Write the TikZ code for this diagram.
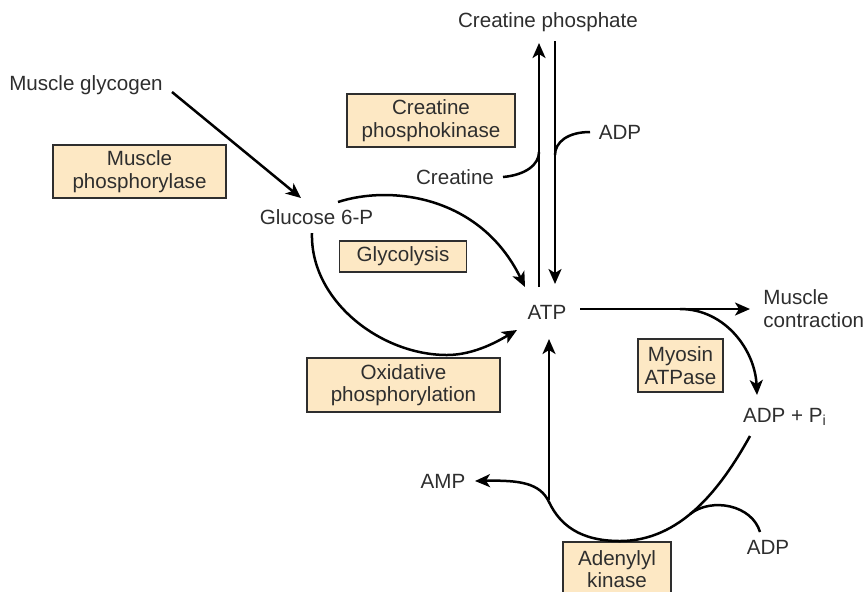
\documentclass[tikz,border=0pt]{standalone}
\usepackage{fontspec}
\setmainfont{Liberation Sans}
\usetikzlibrary{arrows.meta}
\definecolor{boxfill}{HTML}{FDE8C4}
\definecolor{txt}{HTML}{2E2E2E}
\begin{document}
\begin{tikzpicture}[x=0.5pt,y=-0.5pt,
  lbl/.style={inner sep=0pt, text=txt, font=\fontsize{10.3}{11.2}\selectfont, align=center},
  enz/.style={draw=txt, line width=0.6pt, fill=boxfill, text=txt, font=\fontsize{10.3}{11.2}\selectfont, align=center, inner sep=0pt},
  arr/.style={line width=1.25pt, -{Stealth[length=7.5pt,width=6.5pt,inset=2pt]}},
  ln/.style={line width=1.25pt}]
\useasboundingbox (0,0) rectangle (866,591);
\clip (0,0) rectangle (866,591);

% enzyme boxes
\node[enz, minimum width=86.5pt, minimum height=26.5pt] (bphos) at (139.5,171.5) {Muscle\\phosphorylase};
\node[enz, minimum width=84pt, minimum height=26.5pt] (bck) at (431,120.5) {Creatine\\phosphokinase};
\node[enz, minimum width=63.5pt, minimum height=15.5pt] (bgly) at (403,256.5) {Glycolysis};
\node[enz, minimum width=96.5pt, minimum height=27pt] (box) at (403.5,385) {Oxidative\\phosphorylation};
\node[enz, minimum width=42.5pt, minimum height=26.5pt] (bmyo) at (680.5,365.5) {Myosin\\ATPase};
\node[enz, minimum width=54pt, minimum height=27pt] (badk) at (617,569) {Adenylyl\\kinase};

% metabolites
\node[lbl] (glycogen) at (86,85) {Muscle glycogen};
\node[lbl] (g6p) at (316.5,217) {Glucose 6-P};
\node[lbl] (crp) at (548,22) {Creatine phosphate};
\node[lbl] (creatine) at (455,177) {Creatine};
\node[lbl] (adpT) at (620,132) {ADP};
\node[lbl] (atp) at (547,312) {ATP};
\node[lbl, anchor=west, align=left] (mc) at (763,308.5) {Muscle\\contraction};
\node[lbl] (adppi) at (785,417) {ADP + P\textsubscript{i}};
\node[lbl] (amp) at (443,481) {AMP};
\node[lbl] (adpB) at (768,547) {ADP};

% glycogen -> glucose 6-P
\draw[arr] ([shift={(86,7)}]glycogen.center) -- ([shift={(-15.5,-19)}]g6p.center);

% creatine phosphokinase pair
\draw[arr] ([shift={(-8,-25)}]atp.center) -- ([shift={(-9,21)}]crp.center);
\draw[arr] ([shift={(7,19)}]crp.center) -- ([shift={(8,-28)}]atp.center);
\draw[ln] ([shift={(48,0)}]creatine.center) .. controls (525,175) and (539,165) .. ([shift={(-9,130)}]crp.center);
\draw[ln] ([shift={(-30,0)}]adpT.center) .. controls (568,132) and (555,142) .. ([shift={(7,133)}]crp.center);

% glycolysis and oxidative phosphorylation
\draw[arr] ([shift={(21.5,-15)}]g6p.center) .. controls (390,185) and (480,195) .. ([shift={(-22,-25)}]atp.center);
\draw[arr] ([shift={(-4.5,16)}]g6p.center) .. controls (310,300) and (380,355) .. (447,355)
   .. controls (475,355) and (500,340) .. ([shift={(-30,18)}]atp.center);

% ATP -> muscle contraction, myosin ATPase
\draw[arr] ([shift={(33,-3)}]atp.center) -- ([shift={(-13,0.5)}]mc.west);
\draw[arr] ([shift={(133,-3)}]atp.center) .. controls (725,309) and (755,350) .. ([shift={(-28,-22)}]adppi.center);

% adenylyl kinase
\draw[arr] ([shift={(-35,19)}]adppi.center) .. controls (720,490) and (680,541) .. (620,541)
   .. controls (580,541) and (560,525) .. (549,502)
   .. controls (540,483) and (520,480) .. ([shift={(32,0)}]amp.center);
\draw[arr] ([shift={(2,188)}]atp.center) -- ([shift={(2,27)}]atp.center);
\draw[ln] ([shift={(-8,-15)}]adpB.center) .. controls (752,505) and (712,497) .. (690,514);
\end{tikzpicture}
\end{document}
